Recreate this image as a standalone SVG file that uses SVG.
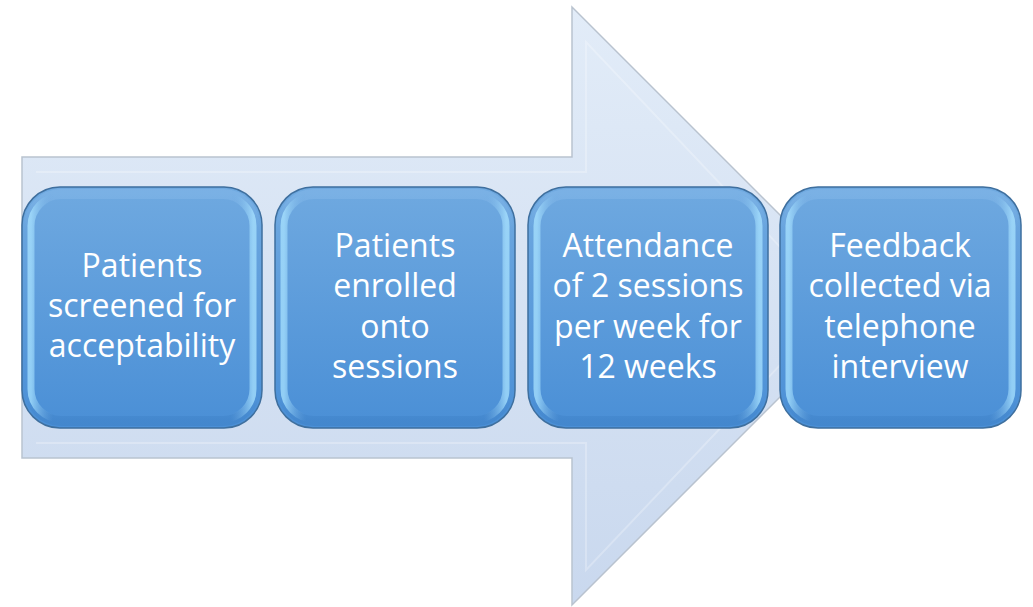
<svg xmlns="http://www.w3.org/2000/svg" width="1033" height="607" viewBox="0 0 1033 607">
  <defs>
    <linearGradient id="arrowFill" x1="0" y1="0" x2="0" y2="1">
      <stop offset="0" stop-color="#e2ecf8"/>
      <stop offset="1" stop-color="#c9d8ee"/>
    </linearGradient>
    <linearGradient id="boxFill" x1="0" y1="0" x2="0" y2="1">
      <stop offset="0" stop-color="#6fa9e0"/>
      <stop offset="1" stop-color="#4a8fd6"/>
    </linearGradient>
    <linearGradient id="bevelSide" x1="0" y1="0" x2="1" y2="0">
      <stop offset="0" stop-color="#a8e2ff"/>
      <stop offset="0.1" stop-color="#6aa6e0" stop-opacity="0"/>
      <stop offset="0.9" stop-color="#6aa6e0" stop-opacity="0"/>
      <stop offset="1" stop-color="#a8e2ff"/>
    </linearGradient>
    <linearGradient id="bevelTop" x1="0" y1="0" x2="0" y2="1">
      <stop offset="0" stop-color="#7db3e6" stop-opacity="0.8"/>
      <stop offset="0.15" stop-color="#7db3e6" stop-opacity="0"/>
      <stop offset="0.9" stop-color="#3f82c8" stop-opacity="0"/>
      <stop offset="1" stop-color="#3f82c8" stop-opacity="0.6"/>
    </linearGradient>
    <style>
      .box { fill: url(#boxFill); stroke: #3e6f9e; stroke-width: 1.5; }
      .bevel { fill: none; stroke: url(#bevelSide); stroke-width: 7; opacity: 0.75; }
      .shade { fill: none; stroke: url(#bevelTop); stroke-width: 10; }
      .label { font-family: "Open Sans", "Liberation Sans", sans-serif; font-size: 32px; fill: #ffffff; text-anchor: middle; }
    </style>
  </defs>

  <!-- big background arrow -->
  <g id="arrow">
    <path d="M22,157 H572 V7 L871,306 L572,605 V458 H22 Z" fill="url(#arrowFill)" stroke="#b9c3cf" stroke-width="1.5"/>
    <path d="M36,172 H586 V42 L836,306 L586,570 V443 H36" fill="none" stroke="#ffffff" stroke-width="2" opacity="0.25"/>
  </g>

  <g id="step1">
    <rect class="box" x="22" y="187" width="240" height="241" rx="38"/>
    <rect class="shade" x="29" y="194" width="226" height="227" rx="32"/>
    <rect class="bevel" x="31" y="196" width="222" height="223" rx="30"/>
    <text class="label" x="142" y="277">Patients</text>
    <text class="label" x="142" y="317">screened for</text>
    <text class="label" x="142" y="357">acceptability</text>
  </g>

  <g id="step2">
    <rect class="box" x="275" y="187" width="240" height="241" rx="38"/>
    <rect class="shade" x="282" y="194" width="226" height="227" rx="32"/>
    <rect class="bevel" x="284" y="196" width="222" height="223" rx="30"/>
    <text class="label" x="395" y="257">Patients</text>
    <text class="label" x="395" y="297">enrolled</text>
    <text class="label" x="395" y="338">onto</text>
    <text class="label" x="395" y="378">sessions</text>
  </g>

  <g id="step3">
    <rect class="box" x="528" y="187" width="240" height="241" rx="38"/>
    <rect class="shade" x="535" y="194" width="226" height="227" rx="32"/>
    <rect class="bevel" x="537" y="196" width="222" height="223" rx="30"/>
    <text class="label" x="648" y="257">Attendance</text>
    <text class="label" x="648" y="297">of 2 sessions</text>
    <text class="label" x="648" y="338">per week for</text>
    <text class="label" x="648" y="378">12 weeks</text>
  </g>

  <g id="step4">
    <rect class="box" x="780" y="187" width="241" height="241" rx="38"/>
    <rect class="shade" x="787" y="194" width="227" height="227" rx="32"/>
    <rect class="bevel" x="789" y="196" width="223" height="223" rx="30"/>
    <text class="label" x="900" y="257">Feedback</text>
    <text class="label" x="900" y="297">collected via</text>
    <text class="label" x="900" y="338">telephone</text>
    <text class="label" x="900" y="378">interview</text>
  </g>
</svg>
